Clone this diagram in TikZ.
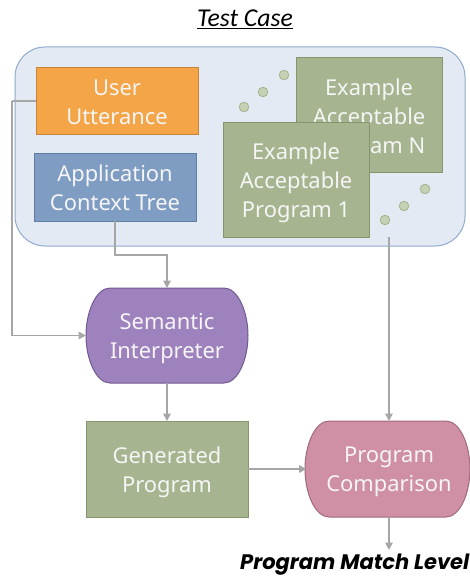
\documentclass[tikz,border=0pt]{standalone}
\usepackage{fontspec}
\setmainfont{Noto Sans}
\newfontfamily\titlefont{Carlito}
\newfontfamily\resultfont{Poppins}
\usetikzlibrary{arrows.meta}
\definecolor{conn}{HTML}{A6A6A6}
\definecolor{cfill}{HTML}{E4EAF3}
\definecolor{cline}{HTML}{8FABCF}
\definecolor{ofill}{HTML}{F4A548}
\definecolor{oline}{HTML}{C7833A}
\definecolor{bfill}{HTML}{7F9DC3}
\definecolor{bline}{HTML}{5E7EA6}
\definecolor{gfill}{HTML}{A6B48F}
\definecolor{gline}{HTML}{86956E}
\definecolor{pfill}{HTML}{9E82BE}
\definecolor{pline}{HTML}{72598F}
\definecolor{rfill}{HTML}{CF8FA5}
\definecolor{rline}{HTML}{A06A7E}
\definecolor{dfill}{HTML}{C6D0B4}
\definecolor{txt}{HTML}{F5F5F5}
\newcommand{\lifted}[1]{\rule{0pt}{#1pt}}
\tikzset{
  px/.style={x=1pt,y=-1pt},
  boxtext/.style={text=txt,align=center,font=\fontsize{21.9}{29}\selectfont,inner sep=0pt,outer sep=0pt},
  box/.style={boxtext,draw=#1,line width=1pt,minimum width=0pt},
  dotmark/.style={fill=dfill,draw=gfill,line width=0.8pt},
  link/.style={draw=conn,line width=1.6pt},
  arrowlink/.style={link,-{Triangle[length=7.5pt,width=7.5pt]}},
}
\newcommand{\pillshape}[6]{% x0,y0,x1,y1,fill,line
  \path[fill=#5,draw=#6,line width=1pt]
    (#1+24,#2) -- (#3-24,#2)
    .. controls (#3-10,#2) and (#3,#2+24) .. (#3,{(#2+#4)/2})
    .. controls (#3,#4-24) and (#3-10,#4) .. (#3-24,#4)
    -- (#1+24,#4)
    .. controls (#1+10,#4) and (#1,#4-24) .. (#1,{(#2+#4)/2})
    .. controls (#1,#2+24) and (#1+10,#2) .. (#1+24,#2) -- cycle;
}
\begin{document}
\begin{tikzpicture}[px]
\useasboundingbox (0,0) rectangle (469,577);
\node[font=\titlefont\itshape\fontsize{25.7}{28}\selectfont,text=black,inner sep=0pt] (title) at (245,19) {\underline{Test Case}};
\draw[fill=cfill,draw=cline,line width=1pt,rounded corners=30pt] (15,47) rectangle (465,246);
\node[box=oline,fill=ofill,minimum width=162pt,minimum height=67pt] (user) at (117,101.5) {\lifted{18}User\\Utterance};
\node[box=bline,fill=bfill,minimum width=162pt,minimum height=67pt] (app) at (115,187.5) {Application\\Context Tree};
\node[box=gline,fill=gfill,minimum width=146pt,minimum height=115pt] (progn) at (369,115.5) {\lifted{22.5}Example\\Acceptable\\Program N};
\node[box=gline,fill=gfill,minimum width=146pt,minimum height=114pt] (prog1) at (296,180) {\lifted{22.5}Example\\Acceptable\\Program 1};
\foreach \n/\cx/\cy in {a/284/75,b/263/92,c/244/107,d/425/189,e/404/206,f/385/220}
  \draw[dotmark] (\cx,\cy) circle (4.8pt);
\pillshape{86}{288}{248}{383}{pfill}{pline}
\node[boxtext,minimum width=162pt,minimum height=95pt] (sem) at (167,335.5) {\lifted{22}Semantic\\Interpreter};
\node[box=gline,fill=gfill,minimum width=162pt,minimum height=96pt] (gen) at (167,469) {\lifted{22.5}Generated\\Program};
\pillshape{305}{421}{470}{517}{rfill}{rline}
\node[boxtext,minimum width=165pt,minimum height=96pt] (cmp) at (389,469) {\lifted{22}Program\\Comparison};
\node[font=\resultfont\bfseries\itshape\fontsize{21}{24}\selectfont,text=black,inner sep=0pt,anchor=east] (match) at (469.5,564.5) {Program Match Level};
\coordinate (uturn) at (12,101);
\coordinate (progout) at (389,237);
\coordinate (appbend) at (115,255);
\draw[link] (user.west |- uturn) -- (uturn);
\draw[arrowlink] (uturn) |- (sem.west);
\draw[arrowlink] (app.south -| appbend) -- (appbend) -| (sem.north);
\draw[arrowlink] (sem.south) -- (gen.north);
\draw[arrowlink] (gen.east) -- (cmp.west);
\draw[arrowlink] (progout) -- (cmp.north);
\draw[arrowlink] (cmp.south) -- (389,550) coordinate (matchin);
\end{tikzpicture}
\end{document}
